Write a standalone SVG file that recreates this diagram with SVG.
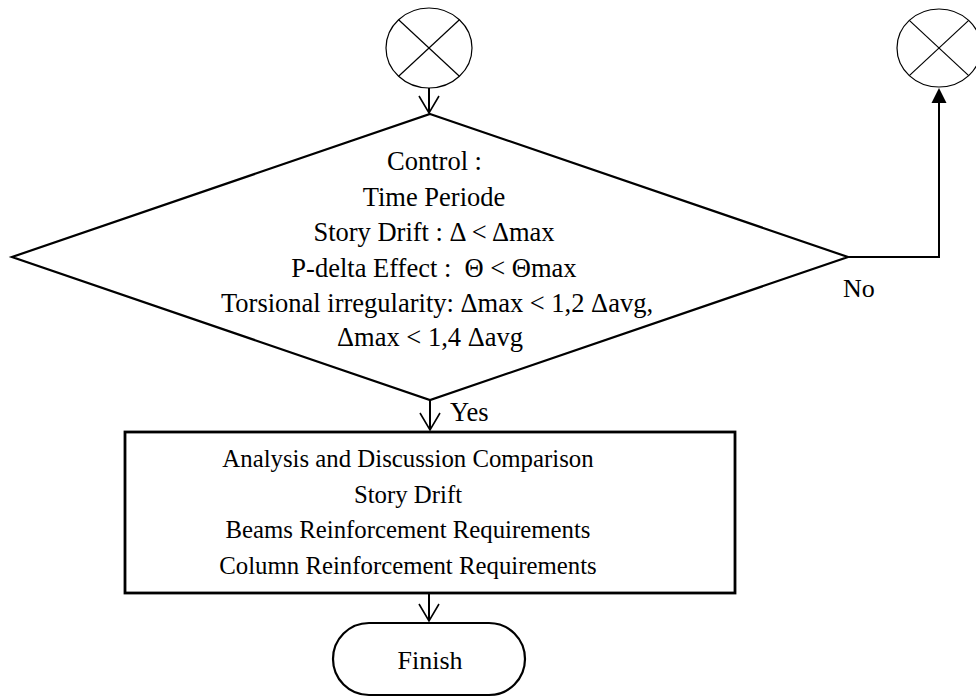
<svg xmlns="http://www.w3.org/2000/svg" width="976" height="697" viewBox="0 0 976 697">
<style>
text{font-family:"Liberation Serif","Times New Roman",serif;font-size:26.5px;fill:#000;}
.c{text-anchor:middle;}
.r{font-size:24.8px;}
.conn{fill:none;stroke:#000;stroke-width:2;}
.open{fill:none;stroke:#000;stroke-width:1.6;}
</style>
<rect width="976" height="697" fill="#fff"/>
<g id="connector-start">
<ellipse cx="429" cy="48" rx="43" ry="40" fill="#fff" stroke="#000" stroke-width="1.2"/>
<line x1="398.6" y1="19.7" x2="459.4" y2="76.3" stroke="#000" stroke-width="1.2"/>
<line x1="459.4" y1="19.7" x2="398.6" y2="76.3" stroke="#000" stroke-width="1.2"/>
</g>
<g id="connector-no">
<ellipse cx="939" cy="48" rx="42" ry="39" fill="#fff" stroke="#000" stroke-width="1.2"/>
<line x1="909.3" y1="20.4" x2="968.7" y2="75.6" stroke="#000" stroke-width="1.2"/>
<line x1="968.7" y1="20.4" x2="909.3" y2="75.6" stroke="#000" stroke-width="1.2"/>
</g>
<g id="decision">
<polygon points="430,114 848,257 430,400 12,257" fill="#fff" stroke="#000" stroke-width="2.2"/>
<text class="c" x="434.5" y="170">Control :</text>
<text class="c" x="434" y="205.5">Time Periode</text>
<text class="c" x="434" y="241">Story Drift : Δ &lt; Δmax</text>
<text class="c" x="434" y="276.5" xml:space="preserve">P-delta Effect :  Θ &lt; Θmax</text>
<text class="c" x="437" y="311.5">Torsional irregularity: Δmax &lt; 1,2 Δavg,</text>
<text class="c" x="430" y="346">Δmax &lt; 1,4 Δavg</text>
</g>
<g id="process">
<rect x="125" y="432" width="610" height="161" fill="#fff" stroke="#000" stroke-width="2.8"/>
<text class="c r" x="408" y="467">Analysis and Discussion Comparison</text>
<text class="c r" x="408" y="502.5">Story Drift</text>
<text class="c r" x="408" y="538">Beams Reinforcement Requirements</text>
<text class="c r" x="408" y="573.5">Column Reinforcement Requirements</text>
</g>
<g id="finish">
<rect x="333" y="623" width="192" height="72" rx="36" ry="36" fill="#fff" stroke="#000" stroke-width="2.2"/>
<text class="c" x="430" y="668.5" style="font-size:26px">Finish</text>
</g>
<g id="connectors">
<line class="conn" x1="429" y1="88" x2="429" y2="113"/>
<polyline class="open" points="419,96 429,113 439,96"/>
<line class="conn" x1="430" y1="400" x2="430" y2="430"/>
<polyline class="open" points="420,413 430,430 440,413"/>
<line class="conn" x1="429" y1="594" x2="429" y2="621"/>
<polyline class="open" points="419,604 429,621 439,604"/>
<polyline class="conn" points="848,257 939,257 939,103"/>
<path d="M931.5,103 L939,88 L946.5,103 Z" fill="#000"/>
<text x="843" y="296.5" style="font-size:26px">No</text>
<text x="450" y="421">Yes</text>
</g>
</svg>
